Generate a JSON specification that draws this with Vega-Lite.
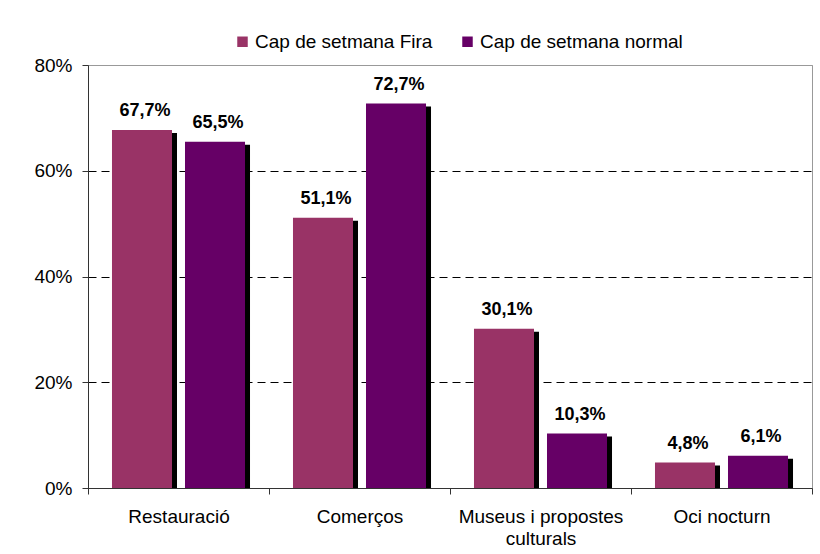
{
  "$schema": "https://vega.github.io/schema/vega-lite/v6.json",
  "width": 724,
  "height": 423,
  "autosize": {"type": "none"},
  "padding": {"left": 88, "top": 65, "right": 8, "bottom": 66},
  "background": "white",
  "config": {
    "font": "Liberation Sans",
    "locale": {"number": {"decimal": ",", "thousands": ".", "grouping": [3], "currency": ["", " €"]}},
    "view": {"stroke": "#999999", "strokeWidth": 1}
  },
  "data": {
    "values": [
      {"categoria": "Restauració", "serie": "Cap de setmana Fira", "valor": 0.677},
      {"categoria": "Restauració", "serie": "Cap de setmana normal", "valor": 0.655},
      {"categoria": "Comerços", "serie": "Cap de setmana Fira", "valor": 0.511},
      {"categoria": "Comerços", "serie": "Cap de setmana normal", "valor": 0.727},
      {"categoria": "Museus i propostes culturals", "serie": "Cap de setmana Fira", "valor": 0.301},
      {"categoria": "Museus i propostes culturals", "serie": "Cap de setmana normal", "valor": 0.103},
      {"categoria": "Oci nocturn", "serie": "Cap de setmana Fira", "valor": 0.048},
      {"categoria": "Oci nocturn", "serie": "Cap de setmana normal", "valor": 0.061}
    ]
  },
  "resolve": {"scale": {"xOffset": "independent"}},
  "encoding": {
    "x": {
      "field": "categoria",
      "type": "nominal",
      "sort": null,
      "scale": {"paddingInner": 0, "paddingOuter": 0},
      "axis": {
        "title": null,
        "labelAngle": 0,
        "labelFontSize": 19,
        "labelColor": "black",
        "labelPadding": 13,
        "labelLineHeight": 22,
        "labelExpr": "datum.label == 'Museus i propostes culturals' ? ['Museus i propostes', 'culturals'] : datum.label",
        "tickBand": "extent",
        "tickSize": 6,
        "tickColor": "#333333",
        "domainColor": "#333333",
        "grid": false
      }
    },
    "y": {
      "field": "valor",
      "type": "quantitative",
      "scale": {"domain": [0, 0.8], "nice": false},
      "axis": {
        "title": null,
        "values": [0, 0.2, 0.4, 0.6, 0.8],
        "format": ".0%",
        "labelFontSize": 19,
        "labelColor": "black",
        "labelPadding": 10,
        "tickSize": 6,
        "tickColor": "#333333",
        "domainColor": "#333333",
        "grid": true,
        "gridColor": {"condition": {"test": "datum.value >= 0.8", "value": "#999999"}, "value": "black"},
        "gridDash": {"condition": {"test": "datum.value >= 0.8", "value": []}, "value": [8, 5]}
      }
    }
  },
  "layer": [
    {
      "mark": {"type": "bar", "color": "black", "yOffset": 3, "clip": true},
      "encoding": {
        "xOffset": {
          "field": "serie",
          "type": "nominal",
          "scale": {"type": "band", "paddingInner": 0.178, "paddingOuter": 0.3285, "range": [5, 186]}
        }
      }
    },
    {
      "mark": {"type": "bar"},
      "encoding": {
        "xOffset": {
          "field": "serie",
          "type": "nominal",
          "scale": {"type": "band", "paddingInner": 0.178, "paddingOuter": 0.3285}
        },
        "color": {
          "field": "serie",
          "type": "nominal",
          "scale": {"domain": ["Cap de setmana Fira", "Cap de setmana normal"], "range": ["#993366", "#660066"]},
          "legend": {
            "title": null,
            "orient": "none",
            "direction": "horizontal",
            "legendX": 145,
            "legendY": -33,
            "padding": 0,
            "symbolType": "square",
            "symbolSize": 110,
            "symbolStrokeWidth": 0,
            "symbolOpacity": 1,
            "labelFontSize": 19,
            "labelLimit": 0,
            "labelColor": "black",
            "labelOffset": 3,
            "columnPadding": 25
          }
        }
      }
    },
    {
      "mark": {"type": "text", "fontSize": 18, "fontWeight": "bold", "color": "black", "baseline": "alphabetic", "dy": -14, "dx": 3},
      "encoding": {
        "xOffset": {
          "field": "serie",
          "type": "nominal",
          "scale": {"type": "band", "paddingInner": 0.178, "paddingOuter": 0.3285}
        },
        "text": {"field": "valor", "type": "quantitative", "format": ".1%"}
      }
    }
  ]
}
